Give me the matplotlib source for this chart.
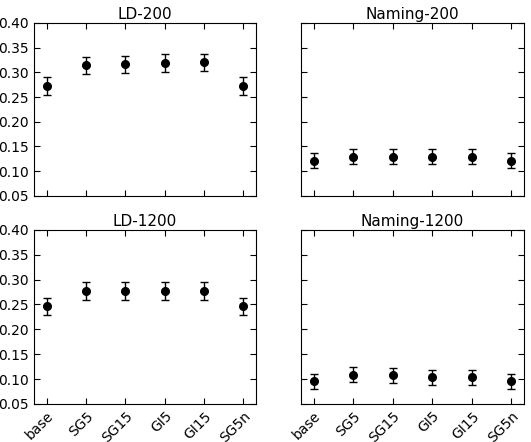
import matplotlib
matplotlib.use("Agg")
import matplotlib.pyplot as plt

conditions = ["base", "SG5", "SG15", "GI5", "GI15", "SG5n"]

ld200 = [0.273, 0.314, 0.316, 0.319, 0.320, 0.273]
ld200_err = [0.018, 0.018, 0.018, 0.018, 0.018, 0.018]
naming200 = [0.121, 0.129, 0.129, 0.129, 0.129, 0.121]
naming200_err = [0.015, 0.015, 0.015, 0.015, 0.015, 0.015]
ld1200 = [0.246, 0.277, 0.277, 0.277, 0.277, 0.246]
ld1200_err = [0.018, 0.018, 0.018, 0.018, 0.018, 0.018]
naming1200 = [0.096, 0.109, 0.108, 0.104, 0.104, 0.096]
naming1200_err = [0.015, 0.015, 0.015, 0.015, 0.015, 0.015]

panels = [
    ("LD-200", ld200, ld200_err),
    ("Naming-200", naming200, naming200_err),
    ("LD-1200", ld1200, ld1200_err),
    ("Naming-1200", naming1200, naming1200_err),
]

fig = plt.figure(figsize=(5.31, 4.42), dpi=100)
boxes = [
    [0.064, 0.557, 0.418, 0.391],
    [0.567, 0.557, 0.420, 0.391],
    [0.064, 0.086, 0.418, 0.394],
    [0.567, 0.086, 0.420, 0.394],
]

x = list(range(len(conditions)))
for i, (title, vals, errs) in enumerate(panels):
    ax = fig.add_axes(boxes[i])
    ax.errorbar(x, vals, yerr=errs, fmt="o", color="black", markersize=5.5,
                capsize=3, elinewidth=1, capthick=1)
    ax.set_title(title, fontsize=11, pad=3)
    ax.set_xlim(-0.32, 5.32)
    ax.set_ylim(0.05, 0.40)
    ax.set_yticks([0.05, 0.10, 0.15, 0.20, 0.25, 0.30, 0.35, 0.40])
    ax.set_xticks(x)
    ax.tick_params(direction="in", top=True, right=True, length=4,
                   labelsize=10)
    if i % 2 == 0:
        ax.set_yticklabels(["%.2f" % v for v in ax.get_yticks()])
    else:
        ax.set_yticklabels([])
    if i >= 2:
        ax.set_xticklabels(conditions, rotation=45, ha="right",
                           rotation_mode="anchor")
    else:
        ax.set_xticklabels([])

fig.savefig("out.png", dpi=100)
